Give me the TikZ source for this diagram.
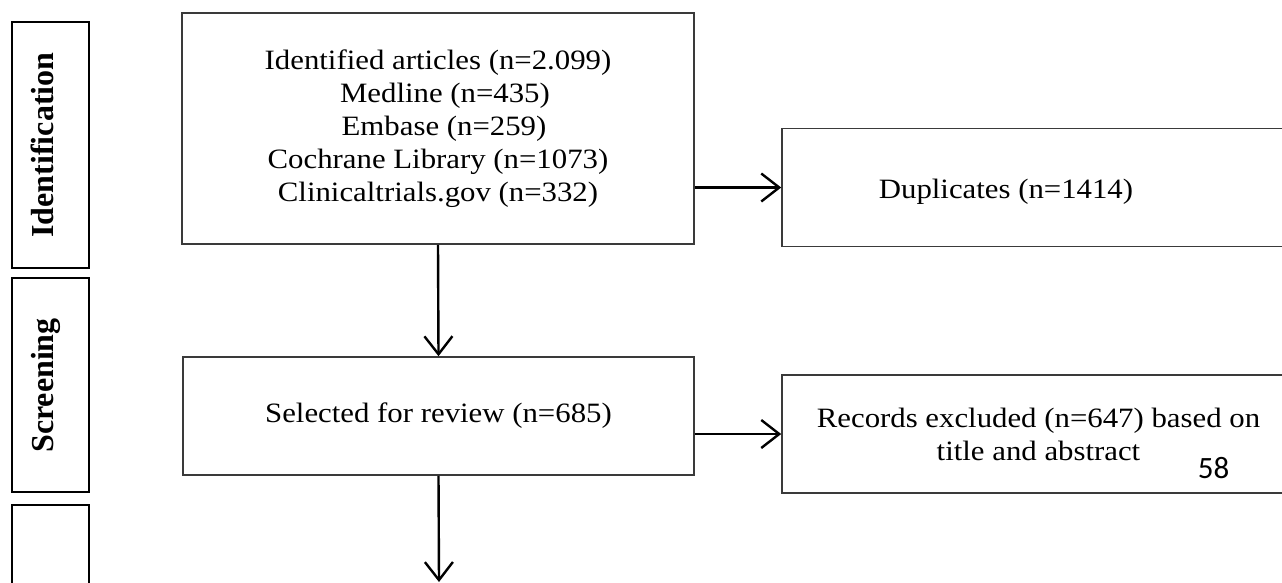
\documentclass[tikz,border=0pt]{standalone}
\usepackage{fontspec}
\setmainfont{Liberation Serif}
\newfontfamily\bodyfont[FakeStretch=1.1]{Liberation Serif}
\newfontfamily\pagefont{Carlito}
\usetikzlibrary{arrows.meta}
\definecolor{boxline}{HTML}{3A3A3A}
\tikzset{
  box/.style={draw=boxline, line width=1.6pt, fill=none, inner sep=0pt},
  sidebox/.style={draw=black, line width=2.4pt, inner sep=0pt, minimum width=77pt},
  sidelabel/.style={rotate=90, anchor=base, inner sep=0pt, font=\fontsize{32}{36}\selectfont\bfseries},
  bodytext/.style={font=\bodyfont\fontsize{28}{33}\selectfont, align=center, inner sep=0pt},
  arr/.style={line width=2.4pt, draw=black, -{Straight Barb[length=18pt,width=28pt,line width=2.4pt]}},
}
\begin{document}
\begin{tikzpicture}[x=1pt,y=-1pt]
\useasboundingbox (0,0) rectangle (1282,582);
% side stage boxes
\node[sidebox, minimum height=246pt] (idbox) at (50.5,145) {};
\node[sidebox, minimum height=214pt] (scrbox) at (50.5,385) {};
\node[sidebox, minimum height=215pt] (incbox) at (50.5,612.5) {};
\node[sidelabel] (idlab) at (53,145) {Identification};
\node[sidelabel] (scrlab) at (53,385.5) {Screening};
% main boxes
\node[box, bodytext, minimum width=512pt, minimum height=231pt] (box1) at (438,128.5)
  {Identified articles (n=2.099)\\\hspace*{14pt}Medline (n=435)\\\hspace*{12pt}Embase (n=259)\\Cochrane Library (n=1073)\\Clinicaltrials.gov (n=332)};
\node[box, bodytext, minimum width=511pt, minimum height=118pt] (sel) at (438.5,416)
  {Selected for review (n=685)};
% right boxes (run past the right edge)
\node[box, minimum width=520pt, minimum height=118pt] (dup) at (1042,187.5) {};
\node[box, minimum width=520pt, minimum height=118pt] (rec) at (1042,434) {};
\node[bodytext, anchor=base] (duptext) at (1006,198) {Duplicates (n=1414)};
\node[bodytext, anchor=base] (rectext) at (1038.5,460) {Records excluded (n=647) based on\\title and abstract};
\node[anchor=base, inner sep=0pt, font=\pagefont\fontsize{31}{36}\selectfont] (pagenum) at (1213.5,478) {58};
% connectors
\coordinate (bottomend) at (439,582);
\draw[arr] (box1.south) -- (sel.north);
\draw[arr] (box1.east |- dup.west) -- (dup.west);
\draw[arr] (sel.east |- rec.west) -- (rec.west);
\draw[arr] (sel.south) -- (bottomend);
\end{tikzpicture}
\end{document}
